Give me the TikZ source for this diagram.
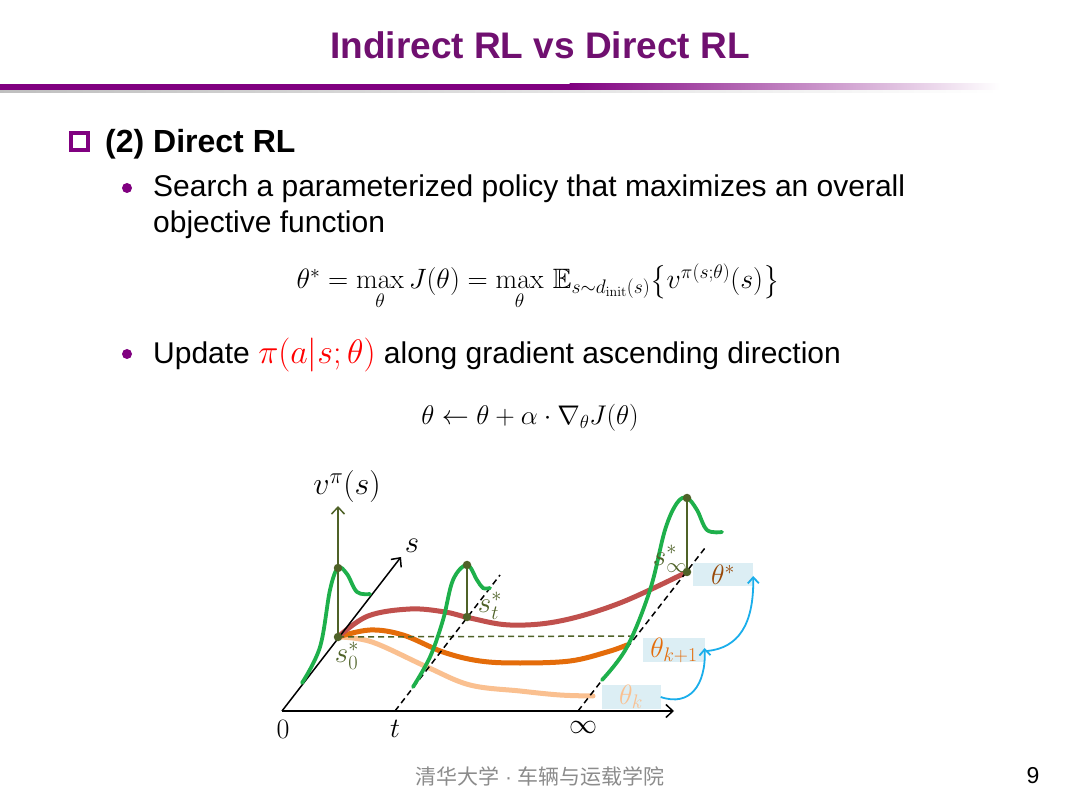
\RequirePackage{fix-cm}
\documentclass[tikz,border=0pt]{standalone}
\usepackage{amsmath,amssymb}
\usepackage[no-math]{fontspec}
\setmainfont{Liberation Sans}
\newfontfamily\cjk{Noto Sans CJK SC}
\usetikzlibrary{arrows.meta}
\definecolor{titlepurple}{RGB}{112,16,112}
\definecolor{linepurple}{RGB}{128,0,128}
\definecolor{greenC}{RGB}{30,176,75}
\definecolor{oliveC}{RGB}{79,98,40}
\definecolor{redC}{RGB}{192,80,77}
\definecolor{orangeC}{RGB}{228,108,10}
\definecolor{lightO}{RGB}{250,192,144}
\definecolor{boxfill}{RGB}{220,238,244}
\definecolor{blueA}{RGB}{26,174,235}
\definecolor{starC}{RGB}{152,72,7}
\definecolor{footgray}{RGB}{140,140,140}
\tikzset{
  titletext/.style={font=\fontsize{37}{42}\selectfont\bfseries, text=titlepurple, inner sep=0},
  bodytext/.style={font=\fontsize{30}{36}\selectfont, anchor=base west, inner sep=0},
  headtext/.style={font=\fontsize{32}{36}\selectfont\bfseries, anchor=base west, inner sep=0},
  formula/.style={font=\fontsize{28}{32}\selectfont, inner sep=0},
  bulletdot/.style={circle, fill=linepurple, inner sep=0, minimum size=10pt},
  axisline/.style={line width=1.5pt, black, -{Straight Barb[length=7pt,width=13pt,line width=1.5pt]}},
  oliveline/.style={line width=1.5pt, oliveC},
  olivearrow/.style={oliveline, -{Straight Barb[length=7pt,width=13pt,line width=1.5pt]}},
  dashline/.style={line width=1.5pt, black, dash pattern=on 6pt off 4pt},
  greencurve/.style={line width=3.8pt, greenC, line cap=round},
  polcurve/.style={line width=5pt, line cap=round},
  dotpt/.style={circle, fill=oliveC, inner sep=0, minimum size=8.5pt},
  tbox/.style={fill=boxfill, inner sep=0, font=\fontsize{28}{30}\selectfont},
  bluearrow/.style={line width=1.8pt, blueA, -{Straight Barb[length=6pt,width=11pt,line width=1.8pt]}},
  mathlabel/.style={font=\fontsize{29}{32}\selectfont, inner sep=0},
  axislabel/.style={font=\fontsize{28}{30}\selectfont, inner sep=0},
}
\begin{document}
\begin{tikzpicture}[x=1pt,y=-1pt]
\useasboundingbox (0,0) rectangle (1080,799);
\fill[white] (0,0) rectangle (1080,799);

% title and rule
\node[titletext] (title) at (540,45) {Indirect RL vs Direct RL};
\shade[left color=black!25, right color=white] (0,89) rectangle (1000,93);
\fill[linepurple] (0,84) rectangle (570,90);
\shade[left color=linepurple, right color=white] (569.5,84) rectangle (1000,90);

% heading
\draw[linepurple, line width=3.5pt] (71,133) rectangle (88,150);
\node[headtext] (head) at (105,153) {(2) Direct RL};

% bullet 1
\node[bulletdot] (b1) at (127,188) {};
\node[bodytext] (l1) at (153,197) {Search a parameterized policy that maximizes an overall};
\node[bodytext] (l2) at (153,233) {objective function};
\node[formula] (f1) at (538,287) {$\theta^* = \max\limits_{\theta} J(\theta) = \max\limits_{\theta}\, \mathbb{E}_{s\sim d_{\mathrm{init}}(s)}\bigl\{v^{\pi(s;\theta)}(s)\bigr\}$};

% bullet 2
\node[bulletdot] (b2) at (127,354) {};
\node[bodytext] (l3) at (153,364) {Update \textcolor{red}{\fontsize{34}{36}\selectfont$\pi(a|s;\theta)$} along gradient ascending direction};
\node[formula, font=\fontsize{27}{30}\selectfont] (f2) at (530,418) {$\theta \leftarrow \theta + \alpha\cdot\nabla_{\theta} J(\theta)$};

% ---------- diagram ----------
\coordinate (O) at (282,711);
\coordinate (Xend) at (674,711);
\coordinate (Send) at (401,557);
\coordinate (s0) at (338,637);
\coordinate (vtop) at (338,506);
\coordinate (tb) at (395,711);
\coordinate (tt) at (500,575);
\coordinate (ib) at (578,711);
\coordinate (it) at (705,548);
\coordinate (hd) at (633,636);
\coordinate (st) at (467,617);
\coordinate (stp) at (467,565);
\coordinate (si) at (687,572);
\coordinate (sip) at (687,498);
\coordinate (p0) at (338,568);

% policy curves
\draw[polcurve, lightO] plot[smooth, tension=0.6] coordinates {(338,637) (372,642) (427,667) (470,685) (520,691) (560,695) (593,696)};
\draw[polcurve, orangeC] plot[smooth, tension=0.6] coordinates {(338,637) (370,630) (403,635) (443,652) (480,661) (520,663) (570,661) (607,652) (627,645)};
\draw[polcurve, redC] plot[smooth, tension=0.6] coordinates {(338,637) (368,616) (410,609) (445,612) (470,618) (510,625) (560,621) (620,603) (687,572)};

% axes
\draw[axisline] (O) -- (Xend);
\draw[axisline] (O) -- (Send);
\draw[olivearrow] (s0) -- (vtop);
\draw[oliveline, dash pattern=on 6pt off 4pt] (s0) -- (hd);
\draw[dashline] (tb) -- (tt);
\draw[dashline] (ib) -- (it);

% green value curves
\draw[greencurve] plot[smooth, tension=0.6] coordinates {(302,683) (320,647) (330,590) (338,568) (347,574) (357,592) (370,594)};
\draw[greencurve] plot[smooth, tension=0.6] coordinates {(413,687) (430,657) (443,620) (453,580) (467,565) (477,580) (483,588) (490,588)};
\draw[greencurve] plot[smooth, tension=0.6] coordinates {(602,680) (627,647) (650,590) (665,530) (677,503) (687,498) (697,510) (707,530) (722,532)};

% verticals and points
\draw[oliveline] (st) -- (stp);
\draw[oliveline] (si) -- (sip);
\node[dotpt] (ds0) at (s0) {};
\node[dotpt] (dst) at (st) {};
\node[dotpt] (dsi) at (si) {};
\node[dotpt] (dp0) at (p0) {};
\node[dotpt] (dpt) at (stp) {};
\node[dotpt] (dpi) at (sip) {};

% labels
\node[mathlabel, font=\fontsize{32}{34}\selectfont] (lv) at (347,487) {$v^{\pi}(s)$};
\node[mathlabel, font=\fontsize{31}{34}\selectfont] (ls) at (412,546) {$s$};
\node[mathlabel, text=oliveC] (ls0) at (347,656) {$s_0^*$};
\node[mathlabel, text=oliveC] (lst) at (490,606) {$s_t^*$};
\node[mathlabel, text=oliveC] (lsi) at (670,559) {$s_\infty^*$};
\node[axislabel] (l0) at (283,729) {$0$};
\node[axislabel] (lt) at (395,729) {$t$};
\node[axislabel] (linf) at (583,727) {$\infty$};

% theta boxes
\node[tbox, minimum width=60pt, minimum height=23pt, text=starC] (thS) at (723,575) {$\theta^*$};
\node[tbox, minimum width=62pt, minimum height=24pt, text=orangeC] (thK1) at (674,650) {$\theta_{k+1}$};
\node[tbox, minimum width=59pt, minimum height=23pt, text=lightO] (thK) at (631,697) {$\theta_k$};

\draw[bluearrow] (thK.east) .. controls (690,707) and (706,685) .. ([xshift=-0.5pt,yshift=2pt]thK1.east);
\draw[bluearrow] ([xshift=2pt,yshift=-1pt]thK1.east) .. controls (738,648) and (754,625) .. ([xshift=0pt,yshift=-1pt]thS.east);

% footer
\node[font=\fontsize{21}{24}\selectfont, text=footgray, inner sep=0] (foot) at (540,776) {{\cjk 清华大学}\ ·\ {\cjk 车辆与运载学院}};
\node[font=\fontsize{23}{26}\selectfont, inner sep=0] (pg) at (1033,776) {9};
\end{tikzpicture}
\end{document}
